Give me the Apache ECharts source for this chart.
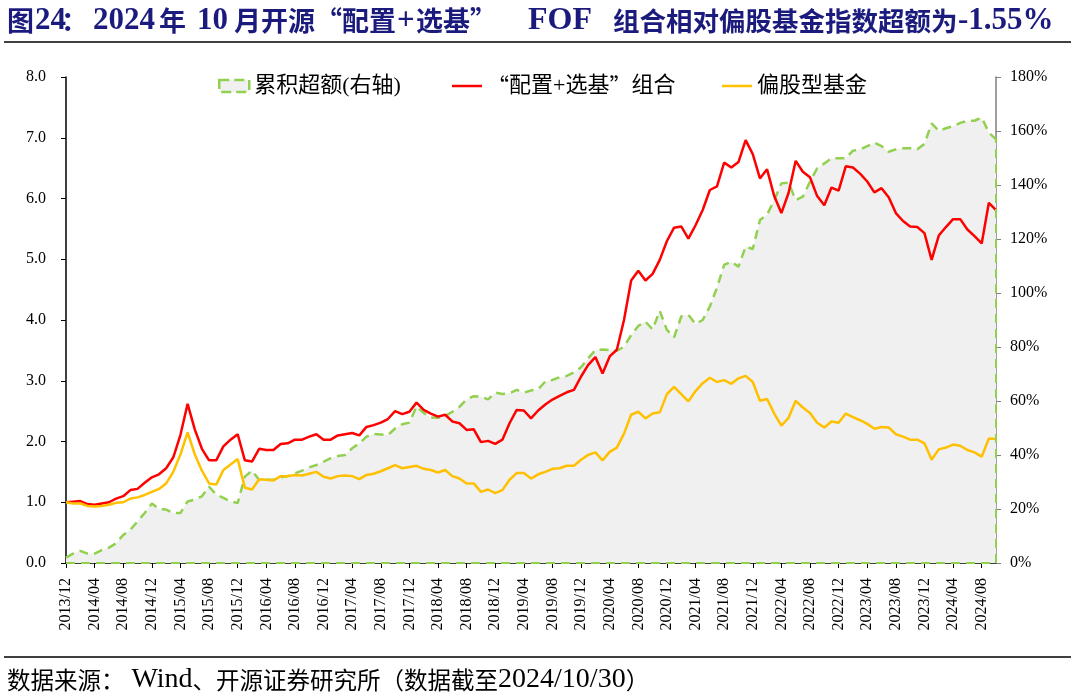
<!DOCTYPE html>
<html lang="zh">
<head>
    <meta charset="UTF-8">
    <title>FOF组合超额</title>
    <script src="https://cdn.jsdelivr.net/npm/echarts@6/dist/echarts.min.js"></script>
    <style>
        body { margin: 0; background: #fff; }
        #main { width: 1075px; height: 699px; }
    </style>
</head>
<body>
<div id="main"></div>

<script>
    // 月份 2013/12 - 2024/10
    var months = [];
    for (var y = 2013, m = 12; y < 2024 || (y === 2024 && m <= 10); ) {
        months.push(y + '/' + (m < 10 ? '0' + m : m));
        m++;
        if (m > 12) { m = 1; y++; }
    }

    // “配置+选基”组合 净值
    var portfolio = [
        1.00,1.01,1.02,0.97,0.96,0.98,1.00,1.06,1.10,1.20,1.22,1.32,1.41,1.46,1.56,1.74,2.11,2.62,2.20,1.88,
        1.69,1.69,1.92,2.03,2.12,1.69,1.67,1.88,1.86,1.86,1.96,1.97,2.03,2.03,2.08,2.12,2.03,2.03,2.10,2.12,
        2.14,2.10,2.24,2.27,2.31,2.37,2.50,2.45,2.49,2.64,2.52,2.46,2.41,2.44,2.33,2.30,2.19,2.20,1.99,2.01,
        1.96,2.03,2.30,2.52,2.51,2.38,2.51,2.61,2.69,2.75,2.81,2.85,3.07,3.26,3.39,3.12,3.40,3.51,4.00,4.65,
        4.81,4.65,4.76,4.99,5.30,5.52,5.54,5.34,5.56,5.81,6.14,6.20,6.59,6.51,6.60,6.96,6.73,6.33,6.48,6.04,
        5.76,6.09,6.62,6.44,6.35,6.04,5.89,6.18,6.13,6.53,6.51,6.41,6.28,6.10,6.17,6.02,5.76,5.63,5.54,5.53,
        5.43,4.99,5.39,5.53,5.66,5.66,5.49,5.38,5.26,5.93,5.81
    ];

    // 偏股型基金 净值
    var equityFund = [
        1.00,0.98,0.98,0.94,0.93,0.94,0.96,0.99,1.00,1.06,1.08,1.12,1.17,1.22,1.31,1.50,1.79,2.15,1.79,1.52,
        1.31,1.29,1.53,1.62,1.71,1.24,1.21,1.38,1.37,1.36,1.43,1.43,1.45,1.44,1.47,1.50,1.42,1.39,1.43,1.44,
        1.43,1.38,1.45,1.47,1.51,1.56,1.61,1.56,1.58,1.60,1.55,1.53,1.49,1.53,1.43,1.39,1.31,1.31,1.17,1.21,
        1.15,1.20,1.37,1.48,1.48,1.39,1.46,1.50,1.55,1.56,1.60,1.60,1.70,1.78,1.82,1.69,1.83,1.90,2.13,2.44,
        2.49,2.38,2.46,2.48,2.78,2.90,2.78,2.66,2.83,2.96,3.05,2.98,3.01,2.95,3.04,3.08,2.98,2.67,2.70,2.46,
        2.26,2.39,2.67,2.56,2.47,2.31,2.23,2.33,2.31,2.46,2.40,2.35,2.29,2.21,2.24,2.23,2.12,2.08,2.03,2.03,
        1.97,1.70,1.87,1.90,1.95,1.93,1.86,1.82,1.75,2.05,2.04
    ];

    // 累积超额（%，右轴）
    var excess = [
        2,3.5,4.5,3.5,3.5,4.8,5.7,7.3,10.4,12.3,15.4,18.5,22,20,19.8,18.5,18.5,22.8,23.5,24.7,
        28.3,25.3,24.1,22.8,22.2,32,34.2,30.8,30.8,30.8,31.7,32.2,33.2,34.2,35.4,36.3,37.5,38.8,39.6,40,
        42.5,44.3,46.8,47.8,47.6,47.4,49.8,51.4,52,58,55.6,53.9,53.8,54.5,56,57.8,60.6,61.8,61.6,60.6,
        63.1,62.6,62.9,64.1,63.1,63.9,64.3,67.2,67.8,68.8,69.3,70.6,72.5,75.8,78.9,79.1,78.9,78.6,80.1,84.4,
        87.8,89.4,86.5,93.4,86.3,83.6,91.3,91.9,88.5,90,95,102,110.4,111.6,109.7,117.2,116.3,127,129,134.4,
        140.6,140.9,134.4,135.7,141.2,146.2,148,149.9,149.9,149.9,152.7,153.2,154.4,155.7,154.4,152.3,153.2,153.6,153.6,153.2,
        155.2,162.8,160.1,161,161.8,163,163.8,163.8,165,159.4,156.9
    ];

    var leftTicks = { min: 0, max: 8, interval: 1 };
    var rightTicks = { min: 0, max: 180, interval: 20 };

    var latin = "'Liberation Serif', 'Noto Sans CJK SC', serif";
    var cjk = "'Noto Sans CJK SC', sans-serif";
    var last = months.length - 1;
    var navy = '#1b1b7e';

    // 标题：中文与西文字号不同，分段排
    var titleParts = [
        ['图', 7, 27], ['24', 35, 31, 'l'], ['：', 61, 27], ['2024', 93, 31, 'l'], ['年', 159, 27],
        ['10', 197, 31, 'l'], ['月开源“配置', 234, 27], ['+', 397, 31, 'l'], ['选基”', 416, 27],
        ['FOF', 528, 32, 'l'], ['组合相对偏股基金指数超额为', 613, 26.5], ['-1.55%', 958, 31, 'l']
    ];
    var titleGraphics = titleParts.map(function (p) {
        return {
            type: 'text', x: p[1], y: 21,
            style: {
                text: p[0],
                fill: navy,
                fontWeight: 'bold',
                fontSize: p[2],
                fontFamily: p[3] === 'l' ? latin : cjk,
                verticalAlign: 'middle'
            }
        };
    });

    function quotes(s) {
        return s.replace(/“/g, '{q|“}').replace(/”/g, '{q|”}');
    }

    var myChart = echarts.init(document.getElementById('main'));

    var legendText = { fontSize: 22, fontFamily: latin, color: '#000', rich: { q: { fontSize: 22, fontFamily: cjk, color: '#000' } } };

    var option = {
        animation: false,
        graphic: titleGraphics.concat([
            { type: 'line', shape: { x1: 4, y1: 42, x2: 1071, y2: 42 }, style: { stroke: '#000', lineWidth: 1.5 } },
            { type: 'line', shape: { x1: 4, y1: 657, x2: 1071, y2: 657 }, style: { stroke: '#000', lineWidth: 1.5 } },
            {
                type: 'text', x: 7, y: 680,
                style: {
                    text: '{c|数据来源：}{l| Wind}{c|、开源证券研究所（数据截至}{l|2024/10/30}{c|）}',
                    verticalAlign: 'middle',
                    rich: {
                        c: { fontSize: 23.5, fontFamily: cjk, fill: '#000' },
                        l: { fontSize: 28, fontFamily: latin, fill: '#000' }
                    }
                }
            }
        ]),
        legend: [
            {
                top: 70, left: 213, itemWidth: 30, itemHeight: 12, textStyle: legendText,
                data: [{
                    name: '累积超额(右轴)',
                    icon: 'rect',
                    itemStyle: { color: '#f0f0f0', borderColor: '#92d050', borderWidth: 2.5, borderType: 'dashed' }
                }]
            },
            {
                top: 70, left: 447, itemWidth: 30, itemHeight: 12, textStyle: legendText,
                formatter: function (name) { return quotes(name); },
                data: [{ name: '“配置+选基”组合', icon: 'path://M0,0H30V2.5H0Z' }]
            },
            {
                top: 70, left: 717, itemWidth: 30, itemHeight: 12, textStyle: legendText,
                data: [{ name: '偏股型基金', icon: 'path://M0,0H30V2.5H0Z' }]
            }
        ],
        grid: { left: 66, right: 79, top: 77, bottom: 136 },
        xAxis: {
            type: 'category',
            boundaryGap: false,
            data: months,
            axisLine: { lineStyle: { color: '#000', width: 1.5 } },
            axisTick: { interval: 3, length: 5, lineStyle: { color: '#000' } },
            axisLabel: {
                interval: 3,
                rotate: 90,
                margin: 15,
                color: '#000',
                fontSize: 16,
                fontFamily: latin
            },
            splitLine: { show: false }
        },
        yAxis: [
            {
                type: 'value',
                min: leftTicks.min,
                max: leftTicks.max,
                interval: leftTicks.interval,
                axisLine: { show: true, lineStyle: { color: '#000', width: 1.5 } },
                axisTick: { show: true, length: 5, lineStyle: { color: '#000' } },
                axisLabel: {
                    margin: 20,
                    color: '#000',
                    fontSize: 16,
                    fontFamily: latin,
                    formatter: function (v) { return v.toFixed(1); }
                },
                splitLine: { show: false }
            },
            {
                type: 'value',
                min: rightTicks.min,
                max: rightTicks.max,
                interval: rightTicks.interval,
                position: 'right',
                axisLine: { show: true, lineStyle: { color: '#808080', width: 1.5 } },
                axisTick: { show: true, length: 5, lineStyle: { color: '#808080' } },
                axisLabel: {
                    margin: 14,
                    color: '#000',
                    fontSize: 16,
                    fontFamily: latin,
                    formatter: '{value}%'
                },
                splitLine: { show: false }
            }
        ],
        series: [
            {
                name: '累积超额(右轴)',
                type: 'line',
                yAxisIndex: 1,
                data: excess,
                showSymbol: false,
                symbol: 'none',
                lineStyle: { color: '#92d050', width: 2.5, type: [9, 6] },
                itemStyle: { color: '#92d050' },
                areaStyle: { color: '#f0f0f0', opacity: 1 },
                z: 1,
                markLine: {
                    silent: true,
                    symbol: 'none',
                    label: { show: false },
                    lineStyle: { color: '#92d050', width: 2, type: [9, 6] },
                    data: [
                        [{ coord: [months[0], 0] }, { coord: [months[last], 0] }],
                        [{ coord: [months[last], 0] }, { coord: [months[last], excess[last]] }]
                    ]
                }
            },
            {
                name: '“配置+选基”组合',
                type: 'line',
                data: portfolio,
                showSymbol: false,
                symbol: 'none',
                lineStyle: { color: '#ff0000', width: 2.5 },
                itemStyle: { color: '#ff0000' },
                z: 3
            },
            {
                name: '偏股型基金',
                type: 'line',
                data: equityFund,
                showSymbol: false,
                symbol: 'none',
                lineStyle: { color: '#ffc000', width: 2.5 },
                itemStyle: { color: '#ffc000' },
                z: 3
            }
        ]
    };

    myChart.setOption(option);
</script>
</body>
</html>
